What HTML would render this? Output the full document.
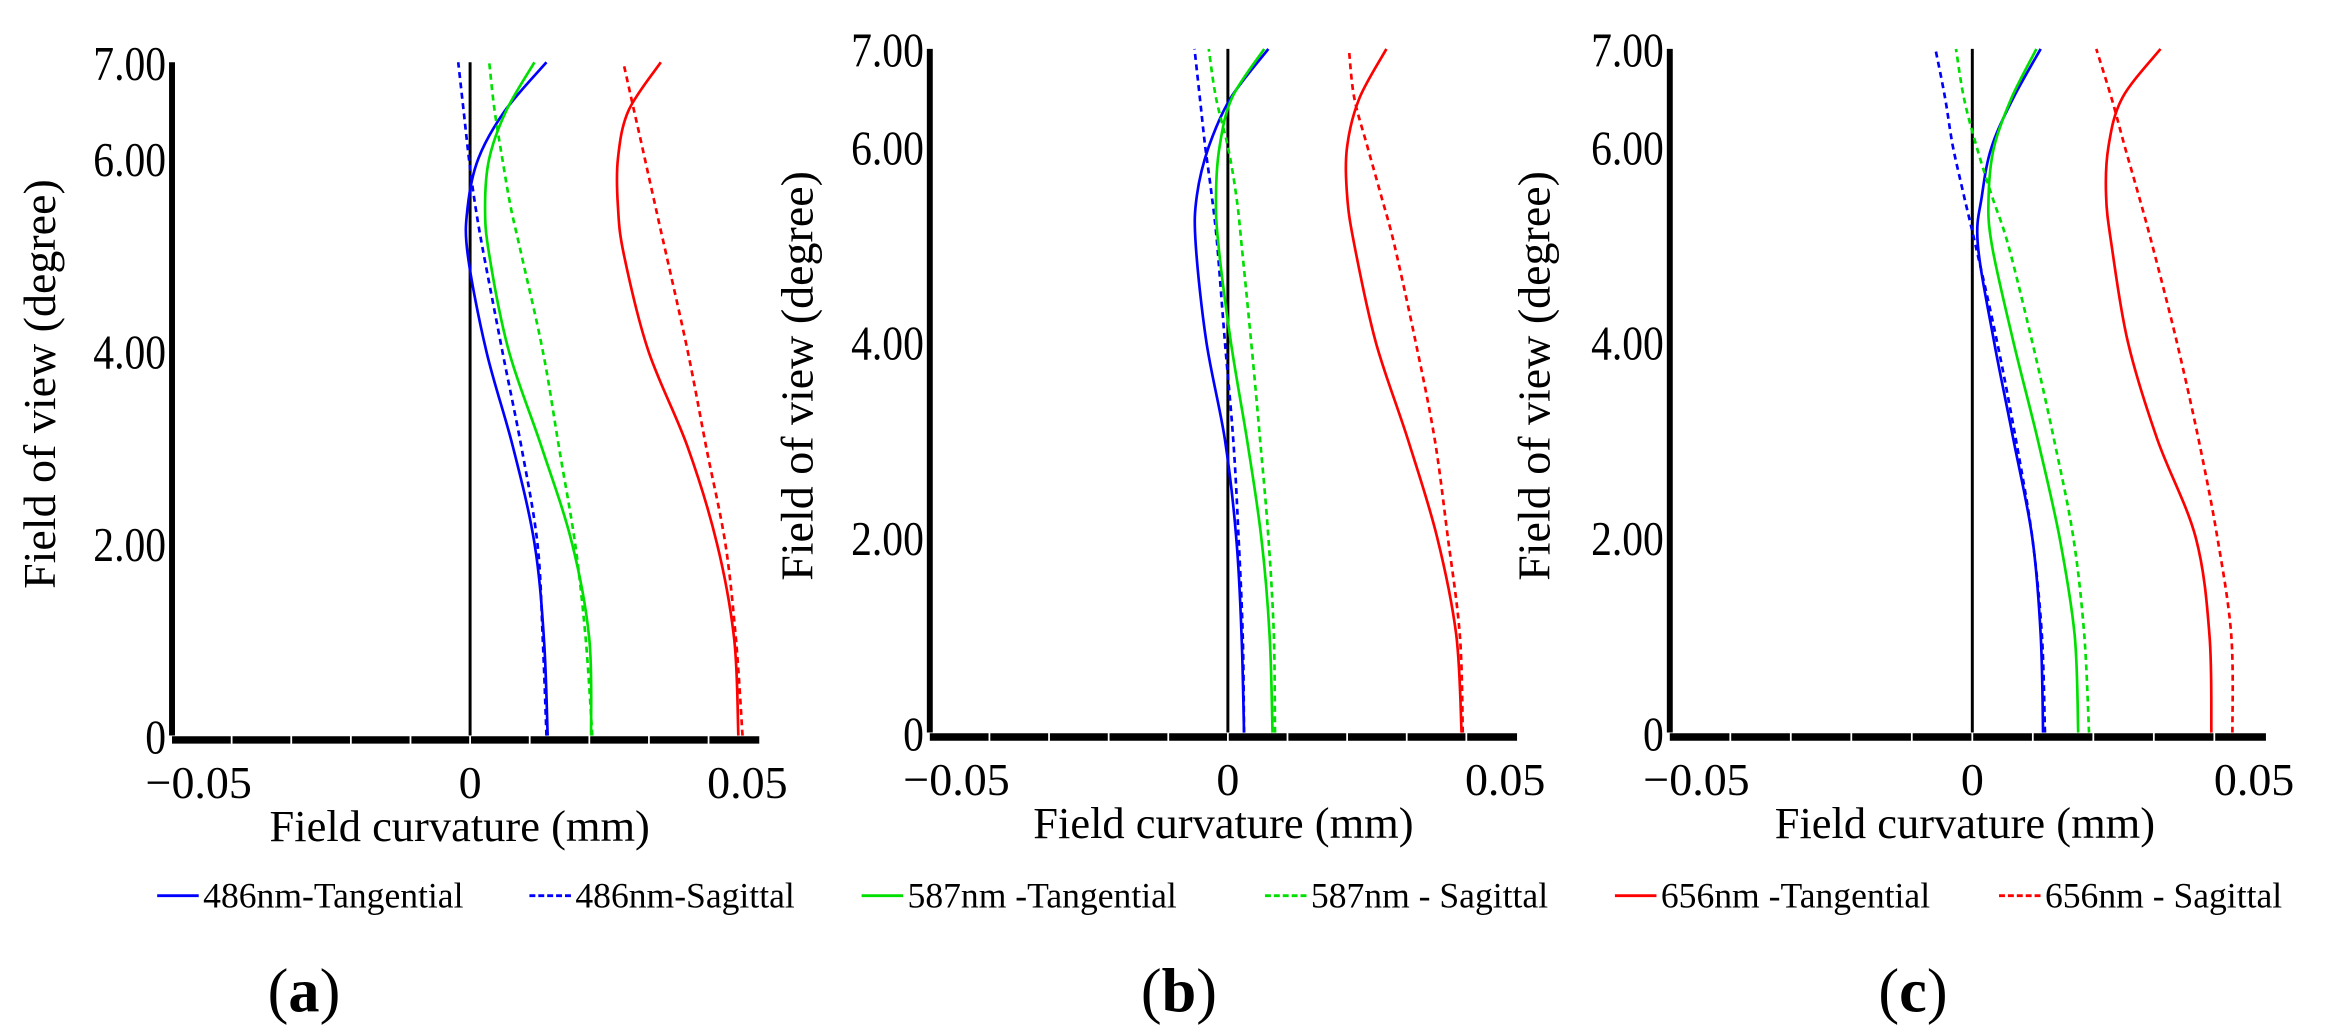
<!DOCTYPE html>
<html><head><meta charset="utf-8">
<style>
html,body{margin:0;padding:0;background:#fff;}
svg{display:block;font-family:"Liberation Serif",serif;}
</style></head>
<body>
<svg id="chart" width="2326" height="1033" viewBox="0 0 1568.5 696.6" preserveAspectRatio="none" xmlns="http://www.w3.org/2000/svg"></svg>
<script>
const fov = [0,1,2,3,4,5,5.5,6,6.5,7];
const yTicks = [0,2,4,6,7];
const yTickLabels = ["0","2.00","4.00","6.00","7.00"];
const xTicks = [-0.05,0,0.05];
const xTickLabels = ["\u22120.05","0","0.05"];
const seriesNames = ["486nm-Tangential","486nm-Sagittal","587nm -Tangential","587nm - Sagittal","656nm -Tangential","656nm - Sagittal"];
const panelLabels = ["a","b","c"];
// panel a
const aBT=[.013,.0124,.0108,.0072,.0027,-.0004,-.0004,.0014,.0059,.0128];
const aBS=[.0128,.0122,.0113,.0086,.0054,.0023,.0009,-.0002,-.0011,-.002];
const aGT=[.0203,.02,.0171,.012,.0065,.0032,.0025,.0032,.0061,.0108];
const aGS=[.0205,.0194,.0176,.0149,.0122,.0086,.0068,.0054,.0041,.0032];
const aRT=[.045,.0443,.0414,.0365,.0299,.0258,.0248,.0248,.0266,.032];
const aRS=[.0457,.0446,.0428,.0396,.0365,.0329,.0311,.0293,.0275,.0257];
// panel b
const bBT=[.0027,.0023,.0014,-.0005,-.0036,-.0054,-.0052,-.0032,.0005,.0068];
const bBS=[.0027,.0025,.0018,.0009,-.0005,-.0018,-.0027,-.0038,-.0047,-.0056];
const bGT=[.0075,.007,.0056,.0032,.0005,-.0016,-.002,-.0014,.0007,.0061];
const bGS=[.0079,.0077,.0068,.0054,.0039,.0023,.0014,0,-.002,-.0032];
const bRT=[.0392,.0383,.0351,.0302,.0248,.0212,.02,.02,.0221,.0266];
const bRS=[.0394,.0389,.0369,.0347,.0315,.0279,.0257,.0234,.0212,.0203];
// panel c
const cBT=[.0117,.0113,.0099,.0068,.0036,.0009,.0016,.0032,.0068,.0113];
const cBS=[.012,.0115,.0099,.0072,.0041,.0005,-.0014,-.0032,-.0045,-.0061];
const cGT=[.0175,.0169,.0144,.0108,.0068,.0032,.0027,.0036,.0065,.0106];
const cGS=[.0193,.0185,.0167,.0135,.0099,.0059,.0032,.0007,-.0014,-.0027];
const cRT=[.0395,.0392,.0369,.0306,.0257,.023,.0221,.0225,.0248,.0311];
const cRS=[.043,.0428,.0405,.0374,.0338,.0297,.0275,.0252,.023,.0205];

const colors=["#0000ff","#0000ff","#00e000","#00e000","#ff0000","#ff0000"];
const dashed=[false,true,false,true,false,true];
const NS="http://www.w3.org/2000/svg";
const svg=document.getElementById('chart');
function el(tag,attrs,parent){const e=document.createElementNS(NS,tag);for(const k in attrs)e.setAttribute(k,attrs[k]);(parent||svg).appendChild(e);return e;}
function smooth(pts){let d="M"+pts[0][0].toFixed(1)+","+pts[0][1].toFixed(1);
 for(let i=0;i<pts.length-1;i++){const p0=pts[Math.max(0,i-1)],p1=pts[i],p2=pts[i+1],p3=pts[Math.min(pts.length-1,i+2)];
  const c1=[p1[0]+(p2[0]-p0[0])/6,p1[1]+(p2[1]-p0[1])/6],c2=[p2[0]-(p3[0]-p1[0])/6,p2[1]-(p3[1]-p1[1])/6];
  d+=" C"+c1[0].toFixed(1)+","+c1[1].toFixed(1)+" "+c2[0].toFixed(1)+","+c2[1].toFixed(1)+" "+p2[0].toFixed(1)+","+p2[1].toFixed(1);}
 return d;}
const panels=[
 {axisX:116,zeroX:317,bottom:496,top:42,titleX:310,ylabX:37,data:[aBT,aBS,aGT,aGS,aRT,aRS],lab:205},
 {axisX:627,zeroX:828,bottom:494,top:33,titleX:825,ylabX:548,data:[bBT,bBS,bGT,bGS,bRT,bRS],lab:795},
 {axisX:1126,zeroX:1330,bottom:494,top:33,titleX:1325,ylabX:1045,data:[cBT,cBS,cGT,cGS,cRT,cRS],lab:1290}
];
panels.forEach((p,pi)=>{
 const g=el('g',{});
 
 
 const sx=v=>p.zeroX+(v/0.05)*(p.zeroX-p.axisX);
 const sy=v=>p.bottom-(v/7)*(p.bottom-p.top);
 const xEnd=sx(0.05)-6;
 const ya=el('line',{x1:p.axisX,y1:sy(0),x2:p.axisX,y2:sy(7),stroke:'#000','stroke-width':4},g);
 
 
 const xa=el('line',{x1:p.axisX,y1:p.bottom+3,x2:xEnd,y2:p.bottom+3,stroke:'#000','stroke-width':5},g);
 
 
 for(let t=-0.04;t<0.05;t+=0.01){el('line',{x1:sx(t),y1:p.bottom,x2:sx(t),y2:p.bottom+6,stroke:'#fff','stroke-width':1.2},g);}
 const zl=el('line',{x1:sx(0),y1:sy(7),x2:sx(0),y2:p.bottom,stroke:'#000','stroke-width':2},g);
 
 
 yTicks.forEach((t,i)=>{
  const tx=el('text',{x:p.axisX-4,y:sy(t)+12,'text-anchor':'end','font-size':33,fill:'#000',transform:`translate(${p.axisX-4},0) scale(0.85,1) translate(${-(p.axisX-4)},0)`},g);
  tx.textContent=yTickLabels[i];
  
  
 });
 xTicks.forEach((t,i)=>{
  const tx=el('text',{x:sx(t)+(i==0?18:(i==2?-14:0)),y:p.bottom+42,'text-anchor':'middle','font-size':31,fill:'#000'},g);
  tx.textContent=xTickLabels[i];
  
  
 });
 const xt=el('text',{x:p.titleX,y:p.bottom+71,'text-anchor':'middle','font-size':30,fill:'#000'},g);
 xt.textContent='Field curvature (mm)';
 
 
 const yt=el('text',{x:0,y:0,'text-anchor':'middle','font-size':31,fill:'#000',transform:`translate(${p.ylabX},${(p.top+p.bottom)/2-10}) rotate(-90)`},g);
 yt.textContent='Field of view (degree)';
 
 
 p.data.forEach((arr,si)=>{
  const pts=arr.map((v,i)=>[sx(v),sy(fov[i])]);
  const path=el('path',{d:smooth(pts),fill:'none',stroke:colors[si],'stroke-width':1.8},g);
  if(dashed[si])path.setAttribute('stroke-dasharray','4,3');
  
  
 });
 const lb=el('text',{x:p.lab,y:682,'text-anchor':'middle','font-size':42,fill:'#000'},g);
 lb.innerHTML='(<tspan font-weight="bold">'+panelLabels[pi]+'</tspan>)';
 
 
});
const legX=[106,357,581,853,1089,1348];
const lg=el('g',{});


seriesNames.forEach((n,i)=>{
 const ln=el('line',{x1:legX[i],y1:604,x2:legX[i]+28,y2:604,stroke:colors[i],'stroke-width':2},lg);
 if(dashed[i])ln.setAttribute('stroke-dasharray','4,2');
 const t=el('text',{x:legX[i]+31,y:612,'font-size':24,fill:'#000'},lg);
 t.textContent=n;
 
 
});
</script>
</body></html>
